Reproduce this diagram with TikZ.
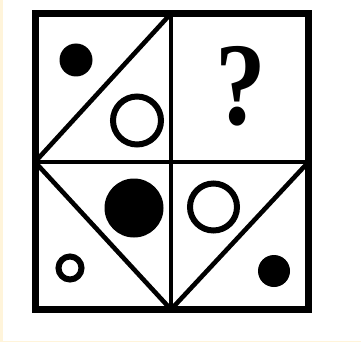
\documentclass[tikz,border=0pt]{standalone}
\usepackage{fontspec}
\newfontfamily\qfont{Liberation Serif}
\definecolor{strip}{RGB}{255,244,218}
\begin{document}
\begin{tikzpicture}[x=1pt,y=-1pt,
  outer/.style={line width=7pt,line join=miter},
  inner/.style={line width=4.6pt},
  dot/.style={circle,fill=black,inner sep=0pt,minimum size=#1},
  ring/.style={circle,draw=black,line width=6pt,inner sep=0pt,minimum size=#1}]
\useasboundingbox (0,0) rectangle (361,342);
\fill[white] (0,0) rectangle (361,342);
\fill[strip] (0,0) rectangle (3,342);
\fill[strip] (0,341) rectangle (361,342);
% grid coordinates
\coordinate (TL) at (35,13.5);
\coordinate (TM) at (171,13.5);
\coordinate (TR) at (308.5,13.5);
\coordinate (ML) at (35,162);
\coordinate (MM) at (171,162);
\coordinate (MR) at (308.5,162);
\coordinate (BL) at (35,309.5);
\coordinate (BM) at (171,309.5);
\coordinate (BR) at (308.5,309.5);
% inner lines
\draw[inner] (TM) -- (BM);
\draw[inner] (ML) -- (MR);
\draw[inner] (ML) -- (TM);
\draw[inner] (ML) -- (BM);
\draw[inner] (MR) -- (BM);
\draw[outer] (TL) rectangle (BR);
% shapes
\node[dot=33pt] (d1) at (76,60) {};
\node[ring=48pt] (r1) at (137,120.5) {};
\node[font=\qfont\bfseries\fontsize{118}{120}\selectfont,inner sep=0pt,xscale=0.86] (q) at (241,86) {?};
\node[dot=59pt] (d2) at (134,208) {};
\node[ring=47pt] (r2) at (213.5,207) {};
\node[ring=23pt] (r3) at (70,268) {};
\node[dot=32pt] (d3) at (274,271) {};
\end{tikzpicture}
\end{document}
